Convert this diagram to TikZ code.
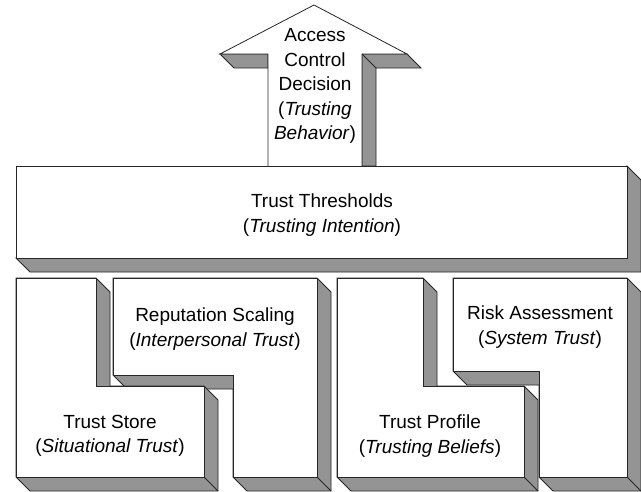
\documentclass[tikz,border=0pt]{standalone}
\usepackage{fontspec}
\setmainfont{Liberation Sans}

\begin{document}
\begin{tikzpicture}[
    x=1pt, y=-1pt,
    face/.style={
        draw=black!85,
        fill=white,
        line width=0.8pt
    },
    shade/.style={
        draw=black!85,
        fill=black!42,
        line width=0.8pt
    },
    fold/.style={
        draw=black!85,
        line width=0.8pt
    },
    lbl/.style={
        align=center,
        inner sep=0pt,
        font=\fontsize{19}{24.5}\selectfont
    }
]
\useasboundingbox[fill=white] (0,0) rectangle (641,491);

% Arrow
\draw[shade] (220,54) -- (268,54) -- (268,68) -- (234,68) -- cycle;
\draw[shade] (362,54) -- (407,54) -- (421,68) -- (376,68) -- (376,166) -- (362,166) -- cycle;
\draw[face] (268,166) -- (268,54) -- (220,54) -- (314,5) -- (407,54) -- (362,54) -- (362,166);
\draw[fold] (362,54) -- (376,68);
\node[lbl] (decision) at (315,86) {Access\\Control\\Decision\\(\textit{Trusting}\\\textit{Behavior})};

% Middle bar
\draw[shade] (16,258) -- (30,272) -- (641,272) -- (641,180) -- (627,166) -- (627,258) -- cycle;
\draw[face] (16,166) rectangle (627,258);
\node[lbl] (thresholds) at (322,215) {Trust Thresholds\\(\textit{Trusting Intention})};

% Bottom left pair
\draw[shade] (113,278) -- (317,278) -- (331,292) -- (331,491) -- (247,491) -- (233,477) -- (233,389) -- (127,389) -- (113,375) -- cycle;
\draw[face] (113,278) -- (317,278) -- (317,477) -- (233,477) -- (233,375) -- (113,375) -- cycle;
\draw[fold] (317,477) -- (331,491);
\node[lbl] (scaling) at (215,329) {Reputation Scaling\\(\textit{Interpersonal Trust})};

\draw[shade] (16,278) -- (96,278) -- (110,292) -- (110,386) -- (204,386) -- (218,400) -- (218,491) -- (30,491) -- (16,477) -- cycle;
\draw[face] (16,278) -- (96,278) -- (96,386) -- (204,386) -- (204,477) -- (16,477) -- cycle;
\draw[fold] (204,477) -- (218,491);
\node[lbl] (store) at (110,436) {Trust Store\\(\textit{Situational Trust})};

% Bottom right pair
\draw[shade] (453,278) -- (627,278) -- (641,292) -- (641,491) -- (553,491) -- (539,477) -- (539,385) -- (467,385) -- (453,371) -- cycle;
\draw[face] (453,278) -- (627,278) -- (627,477) -- (539,477) -- (539,371) -- (453,371) -- cycle;
\draw[fold] (627,477) -- (641,491);
\node[lbl] (risk) at (540,327) {Risk Assessment\\(\textit{System Trust})};

\draw[shade] (337,278) -- (423,278) -- (437,292) -- (437,386) -- (524,386) -- (538,400) -- (538,491) -- (351,491) -- (337,477) -- cycle;
\draw[face] (337,278) -- (423,278) -- (423,386) -- (524,386) -- (524,477) -- (337,477) -- cycle;
\draw[fold] (524,477) -- (538,491);
\node[lbl] (profile) at (430,436) {Trust Profile\\(\textit{Trusting Beliefs})};

\end{tikzpicture}
\end{document}
